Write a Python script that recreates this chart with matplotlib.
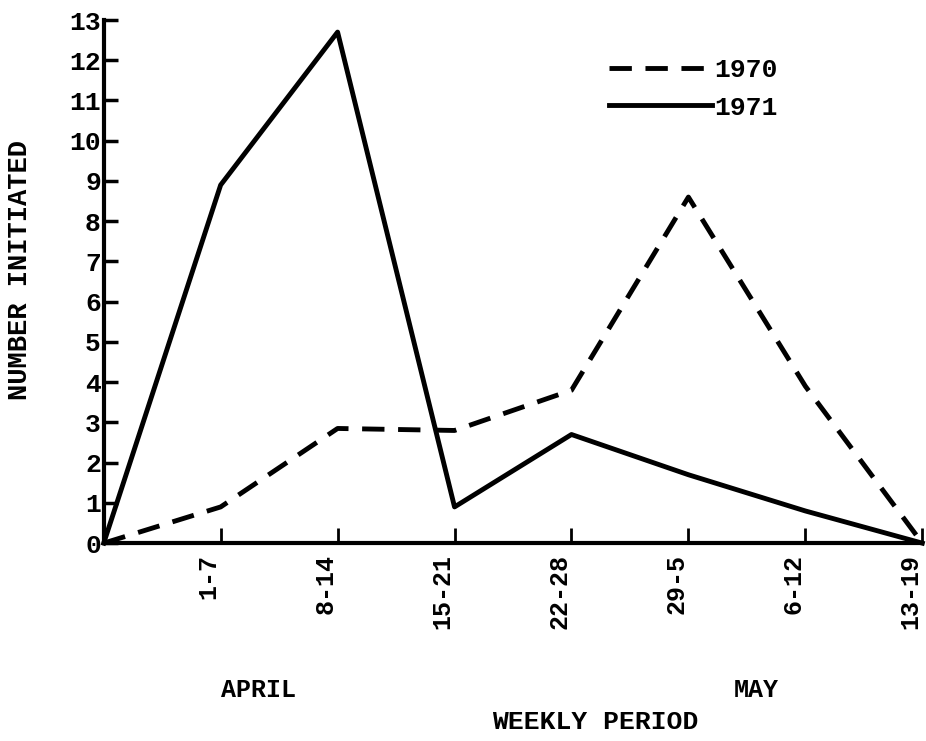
import matplotlib
matplotlib.use('Agg')
import matplotlib.pyplot as plt
import matplotlib.transforms as mtransforms
import numpy as np

# DATA
weeks = ['', '1-7', '8-14', '15-21', '22-28', '29-5', '6-12', '13-19']
y_1970 = [0, 0.9, 2.85, 2.8, 3.8, 8.6, 3.9, 0]
y_1971 = [0, 8.9, 12.7, 0.9, 2.7, 1.7, 0.8, 0]
y_ticks = list(range(0, 14))

font = {'family': 'Liberation Mono', 'weight': 'bold', 'color': 'k'}

# FIGURE
fig = plt.figure(figsize=(9.26, 7.41), dpi=100)
ax = fig.add_axes([0.112, 0.267, 0.884, 0.706])

x = np.arange(len(weeks))
l70, = ax.plot(x, y_1970, color='k', lw=3.5, clip_on=False)
l70.set_dashes((4.6, 2.8))
l71, = ax.plot(x, y_1971, color='k', lw=3.5, clip_on=False)

ax.set_xlim(0, 7)
ax.set_ylim(0, 13)
ax.spines[['top', 'right']].set_visible(False)
ax.spines[['left', 'bottom']].set_linewidth(3)

ax.set_yticks(y_ticks)
ax.set_yticklabels([str(v) for v in y_ticks], fontdict={**font, 'size': 19})
ax.set_xticks(x[1:])
ax.set_xticklabels(weeks[1:], rotation=90, fontdict={**font, 'size': 18})
ax.tick_params(axis='y', direction='in', length=10, width=2.5, pad=2)
ax.tick_params(axis='x', direction='in', length=11, width=2, pad=8)

shift = mtransforms.ScaledTranslation(-12 / 100, 0, fig.dpi_scale_trans)
for lab in ax.get_xticklabels():
    lab.set_transform(lab.get_transform() + shift)
    lab.set_verticalalignment('top')

# LABELS
fig.text(0.022, 0.635, 'NUMBER INITIATED', rotation=90, ha='center', va='center',
         fontdict={**font, 'size': 19.5})
fig.text(0.279, 0.069, 'APRIL', ha='center', va='center', fontdict={**font, 'size': 18})
fig.text(0.817, 0.069, 'MAY', ha='center', va='center', fontdict={**font, 'size': 18})
fig.text(0.643, 0.025, 'WEEKLY PERIOD', ha='center', va='center', fontdict={**font, 'size': 19})

# LEGEND
leg = ax.legend([l70, l71], ['1970', '1971'], loc='upper left',
                bbox_to_anchor=(0.601, 0.952), frameon=False, borderpad=0,
                handlelength=3.9, handletextpad=0.1, labelspacing=0.5,
                prop={'family': 'Liberation Mono', 'weight': 'bold', 'size': 19})

fig.savefig('out.png', dpi=100)
